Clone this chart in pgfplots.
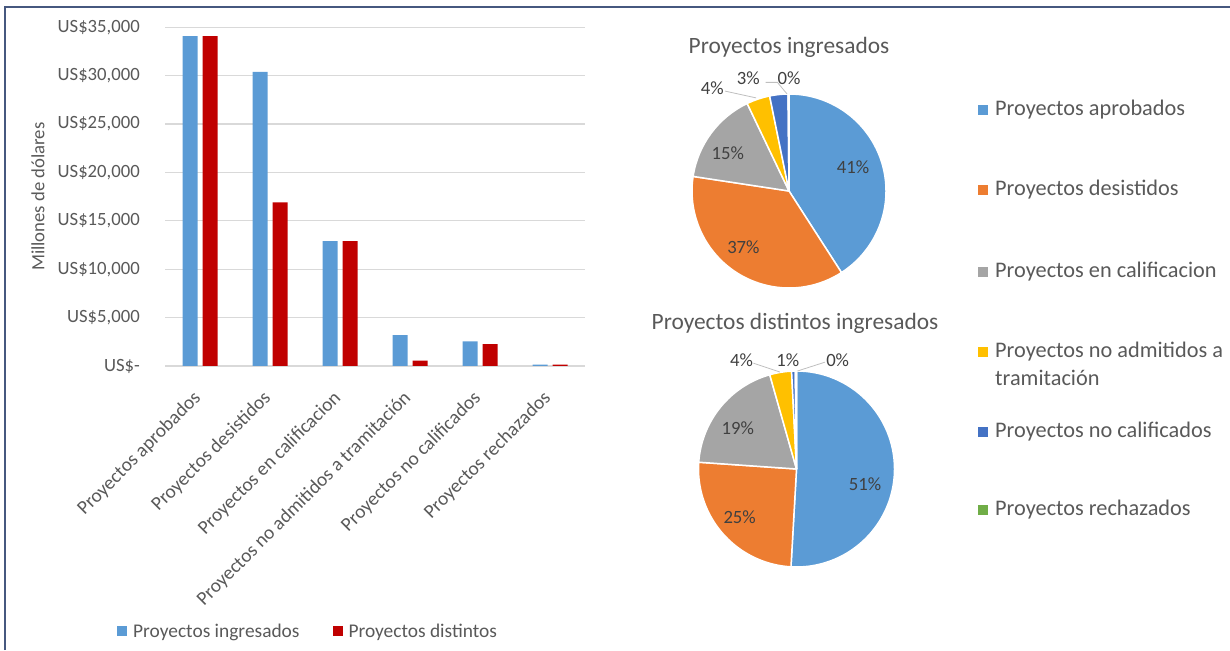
\documentclass[border=0pt]{standalone}
\usepackage{fontspec}
\setmainfont{Carlito}
\usepackage{pgfplots}
\usepackage{pgfplotstable}
\pgfplotsset{compat=1.18}

\definecolor{cblue}{HTML}{5B9BD5}
\definecolor{cred}{HTML}{C00000}
\definecolor{pie0}{HTML}{5B9BD5}
\definecolor{pie1}{HTML}{ED7D31}
\definecolor{pie2}{HTML}{A5A5A5}
\definecolor{pie3}{HTML}{FFC000}
\definecolor{pie4}{HTML}{4472C4}
\definecolor{pie5}{HTML}{70AD47}
\definecolor{txt}{HTML}{595959}
\definecolor{ptxt}{HTML}{404040}
\definecolor{gridc}{HTML}{D9D9D9}
\definecolor{leader}{HTML}{BFBFBF}
\definecolor{framec}{HTML}{46587F}

\pgfplotstableread{
cat ingresados distintos
0 34100 34100
1 30400 16900
2 12900 12900
3 3200 550
4 2550 2270
5 150 150
}\bardata

\pgfplotstableread{
pct
40.9
36.5
15.5
3.9
3.05
0.15
}\pieA

\pgfplotstableread{
pct
50.9
25.2
19.5
3.6
0.6
0.2
}\pieB

\newcommand\drawpie[2]{%
  \pgfplotstablegetrowsof{#1}%
  \pgfmathtruncatemacro\npie{\pgfplotsretval-1}%
  \gdef\cumpie{0}%
  \foreach \k in {0,...,\npie}{%
    \pgfplotstablegetelem{\k}{pct}\of{#1}%
    \let\val\pgfplotsretval
    \pgfmathsetmacro\aS{90-3.6*\cumpie}%
    \pgfmathsetmacro\aE{90-3.6*(\cumpie+\val)}%
    \pgfmathsetmacro\newcum{\cumpie+\val}%
    \xdef\cumpie{\newcum}%
    \edef\temp{\noexpand\filldraw[fill=pie\k, draw=white, line width=1.5pt, line join=round] (axis cs:0,0) -- ++(\aS:#2) arc[start angle=\aS, end angle=\aE, radius=#2] -- cycle;}%
    \temp
  }%
}

\newcommand\ftick{\fontsize{18.7pt}{22pt}\selectfont}
\newcommand\fxlab{\fontsize{19.4pt}{23pt}\selectfont}
\newcommand\fleg{\fontsize{22.3pt}{26pt}\selectfont}
\newcommand\ftitle{\fontsize{23.4pt}{27pt}\selectfont}

\begin{document}
\begin{tikzpicture}[x=1pt,y=1pt]
\useasboundingbox (0,0) rectangle (1230,650);
\draw[framec, line width=2pt] (4.7,0) -- (4.7,643.3) -- (1230,643.3);

\begin{scope}[shift={(165,284)}]
\begin{axis}[
  at={(0,0)}, anchor=south west,
  width=420pt, height=338.7pt, scale only axis,
  ybar, bar width=15pt,
  xmin=-0.5, xmax=5.5, ymin=0, ymax=35000,
  scaled y ticks=false,
  xtick={0,1,2,3,4,5},
  xticklabels={Proyectos aprobados, Proyectos desistidos, Proyectos en calificacion, Proyectos no admitidos a tramitación, Proyectos no calificados, Proyectos rechazados},
  xticklabel shift=0pt,
  x tick label style={yshift=-19pt, xshift=-8pt, rotate=45, anchor=north east, inner sep=0pt, font=\fxlab, text=txt},
  ytick={0,5000,10000,15000,20000,25000,30000,35000},
  yticklabels={{US\$-},{US\$5,000},{US\$10,000},{US\$15,000},{US\$20,000},{US\$25,000},{US\$30,000},{US\$35,000}},
  y tick label style={inner sep=0pt, xshift=-25pt, font=\ftick, text=txt},
  /pgf/number format/assume math mode=true,
  ymajorgrids, grid style={gridc, line width=1.2pt},
  axis line style={draw=none}, major tick style={draw=none},
  ylabel={Millones de dólares},
  ylabel style={at={(rel axis cs:-0.3024,0.5)}, anchor=center, font=\ftick, text=txt},
  legend style={at={(rel axis cs:-0.1143,-0.782)}, anchor=west, draw=none, fill=none, inner sep=0pt, font=\fxlab, text=txt,
    nodes={inner sep=0pt, text depth=0pt},
    /tikz/every odd column/.append style={column sep=6pt},
    /tikz/every even column/.append style={column sep=33pt}},
  legend columns=2, legend cell align=left,
  clip=false,
]
\addplot[fill=cblue, draw=none, bar shift=-10pt,
  legend image code/.code={\fill[cblue] (0pt,-5pt) rectangle (10pt,5pt);}]
  table[x=cat, y=ingresados]{\bardata};
\addplot[fill=cred, draw=none, bar shift=10pt,
  legend image code/.code={\fill[cred] (0pt,-5pt) rectangle (10pt,5pt);}]
  table[x=cat, y=distintos]{\bardata};
\legend{Proyectos ingresados, Proyectos distintos}
\end{axis}
\end{scope}

% Pie 1
\node[font=\ftitle, text=txt] at (789,603) {Proyectos ingresados};
\begin{scope}[shift={(692,362)}]
\begin{axis}[at={(0,0)}, anchor=south west, width=194pt, height=194pt, scale only axis,
  hide axis, xmin=-1, xmax=1, ymin=-1, ymax=1, clip=false]
\drawpie{\pieA}{97pt}
\draw[leader, line width=0.8pt] (axis cs:-0.66,1.03) -- (axis cs:-0.34,0.96);
\draw[leader, line width=0.8pt] (axis cs:-0.24,1.12) -- (axis cs:-0.12,1.12) -- (axis cs:-0.02,1.0);
\begin{scope}[every node/.style={font=\ftick, text=ptxt}]
\node at (axis cs:0.66,0.25) {41\%};
\node at (axis cs:-0.47,-0.58) {37\%};
\node at (axis cs:-0.63,0.39) {15\%};
\node at (axis cs:-0.79,1.06) {4\%};
\node at (axis cs:-0.42,1.16) {3\%};
\node at (axis cs:0.0,1.16) {0\%};
\end{scope}
\end{axis}
\end{scope}

% Pie 2
\node[font=\ftitle, text=txt] at (795,327) {Proyectos distintos ingresados};
\begin{scope}[shift={(698.5,83)}]
\begin{axis}[at={(0,0)}, anchor=south west, width=196pt, height=196pt, scale only axis,
  hide axis, xmin=-1, xmax=1, ymin=-1, ymax=1, clip=false]
\drawpie{\pieB}{98pt}
\draw[leader, line width=0.8pt] (axis cs:-0.44,1.08) -- (axis cs:-0.17,0.99);
\draw[leader, line width=0.8pt] (axis cs:0.29,1.09) -- (axis cs:0.01,1.0);
\begin{scope}[every node/.style={font=\ftick, text=ptxt}]
\node at (axis cs:0.70,-0.16) {51\%};
\node at (axis cs:-0.58,-0.49) {25\%};
\node at (axis cs:-0.60,0.42) {19\%};
\node at (axis cs:-0.56,1.11) {4\%};
\node at (axis cs:-0.09,1.11) {1\%};
\node at (axis cs:0.42,1.11) {0\%};
\end{scope}
\end{axis}
\end{scope}

% Right legend
\begin{scope}[every node/.style={font=\fleg, text=txt, anchor=west, inner sep=0pt}]
\fill[pie0] (978,535) rectangle (988,545); \node at (995,540) {Proyectos aprobados};
\fill[pie1] (978,455) rectangle (988,465); \node at (995,460) {Proyectos desistidos};
\fill[pie2] (978,373) rectangle (988,383); \node at (995,378) {Proyectos en calificacion};
\fill[pie3] (978,293) rectangle (988,303); \node at (995,298) {Proyectos no admitidos a};
\node at (995,272) {tramitación};
\fill[pie4] (978,213) rectangle (988,223); \node at (995,218) {Proyectos no calificados};
\fill[pie5] (978,135) rectangle (988,145); \node at (995,140) {Proyectos rechazados};
\end{scope}
\end{tikzpicture}
\end{document}
